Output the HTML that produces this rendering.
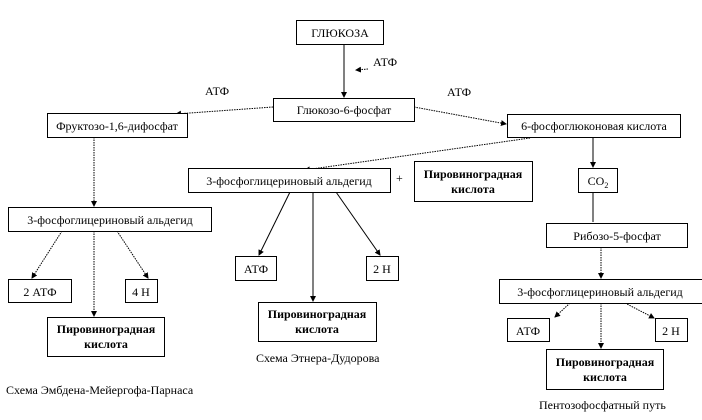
<!DOCTYPE html>
<html><head><meta charset="utf-8"><style>
body{margin:0;background:#fff}
svg{display:block}
text{font-family:"Liberation Serif",serif;font-size:12px;fill:#000}
.b{font-weight:bold}
rect{fill:#fff;stroke:#000;stroke-width:1}
.sh{fill:none;stroke:#777;stroke-dasharray:1 1}
line{stroke:#000;stroke-width:1}
.d{stroke-dasharray:1.5 1}
</style></head><body>
<svg width="702" height="420" viewBox="0 0 702 420" xmlns="http://www.w3.org/2000/svg">
<defs><marker id="a" markerWidth="6" markerHeight="6" refX="5" refY="3" orient="auto" markerUnits="userSpaceOnUse"><path d="M0,0 L6,3 L0,6 z" fill="#000"/></marker></defs>
<g>
<!-- lines -->
<line x1="344" y1="44" x2="344" y2="97" marker-end="url(#a)"/>
<line class="d" x1="368" y1="69" x2="356" y2="70" marker-end="url(#a)"/>
<line class="d" x1="273" y1="107" x2="176" y2="114" marker-end="url(#a)"/>
<line class="d" x1="414" y1="107" x2="506" y2="124" marker-end="url(#a)"/>
<line class="d" x1="530" y1="138" x2="305" y2="170" marker-end="url(#a)"/>
<line x1="290" y1="192" x2="259" y2="255" marker-end="url(#a)"/>
<line x1="313" y1="192" x2="313" y2="301" marker-end="url(#a)"/>
<line x1="336" y1="192" x2="380" y2="255" marker-end="url(#a)"/>
<line x1="593" y1="138" x2="593" y2="167" marker-end="url(#a)"/>
<line x1="593" y1="192" x2="593" y2="222"/>
<line class="d" x1="601" y1="247" x2="601" y2="278" marker-end="url(#a)"/>
<line class="d" x1="570" y1="303" x2="555" y2="317" marker-end="url(#a)"/>
<line class="d" x1="601" y1="303" x2="601" y2="348" marker-end="url(#a)"/>
<line class="d" x1="625" y1="303" x2="654" y2="318" marker-end="url(#a)"/>
<line class="d" x1="94" y1="137" x2="94" y2="206" marker-end="url(#a)"/>
<line class="d" x1="62" y1="231" x2="32" y2="278" marker-end="url(#a)"/>
<line class="d" x1="94" y1="231" x2="94" y2="316" marker-end="url(#a)"/>
<line class="d" x1="117" y1="231" x2="148" y2="278" marker-end="url(#a)"/>
</g>
<g>
<rect x="296.5" y="20.5" width="87" height="24"/>
<rect x="273.5" y="98.5" width="141" height="23"/>
<rect x="47.5" y="113.5" width="140" height="24"/>
<rect x="507.5" y="114.5" width="173" height="23"/>
<rect x="188.5" y="168.5" width="202" height="24"/>
<rect x="414.5" y="161.5" width="118" height="40"/>
<rect x="578.5" y="168.5" width="39" height="24"/>
<rect x="8.5" y="207.5" width="203" height="24"/>
<rect x="546.5" y="223.5" width="141" height="24"/>
<rect x="235.5" y="256.5" width="41" height="24"/>
<rect x="366.5" y="256.5" width="32" height="24"/>
<rect x="8.5" y="279.5" width="63" height="23"/>
<rect x="125.5" y="279.5" width="32" height="23"/>
<rect x="499.5" y="279.5" width="210" height="24"/>
<rect x="47.5" y="317.5" width="117" height="39"/>
<rect x="258.5" y="302.5" width="118" height="39"/>
<rect x="507.5" y="318.5" width="42" height="23"/>
<rect x="655.5" y="318.5" width="32" height="23"/>
<rect x="546.5" y="349.5" width="117" height="40"/>
</g>
<g text-anchor="middle">
<text x="340" y="37">ГЛЮКОЗА</text>
<text x="344" y="114">Глюкозо-6-фосфат</text>
<text x="117" y="130">Фруктозо-1,6-дифосфат</text>
<text x="594" y="130">6-фосфоглюконовая кислота</text>
<text x="289" y="185">3-фосфоглицериновый альдегид</text>
<text class="b" x="473" y="178">Пировиноградная</text>
<text class="b" x="473" y="193">кислота</text>
<text x="598" y="185">CO<tspan font-size="8" dy="3">2</tspan></text>
<text x="110" y="224">3-фосфоглицериновый альдегид</text>
<text x="617" y="240">Рибозо-5-фосфат</text>
<text x="256" y="273">АТФ</text>
<text x="382" y="273">2 H</text>
<text x="40" y="296">2 АТФ</text>
<text x="141" y="296">4 H</text>
<text x="600" y="296">3-фосфоглицериновый альдегид</text>
<text class="b" x="106" y="333">Пировиноградная</text>
<text class="b" x="106" y="348">кислота</text>
<text class="b" x="317" y="318">Пировиноградная</text>
<text class="b" x="317" y="333">кислота</text>
<text x="528" y="335">АТФ</text>
<text x="671" y="335">2 H</text>
<text class="b" x="605" y="366">Пировиноградная</text>
<text class="b" x="605" y="381">кислота</text>
</g>
<text x="373" y="66">АТФ</text>
<text x="205" y="95">АТФ</text>
<text x="447" y="96">АТФ</text>
<text x="396" y="182">+</text>
<text x="256" y="362">Схема Этнера-Дудорова</text>
<text x="6" y="394">Схема Эмбдена-Мейергофа-Парнаса</text>
<text x="539" y="409">Пентозофосфатный путь</text>
</svg>
</body></html>
